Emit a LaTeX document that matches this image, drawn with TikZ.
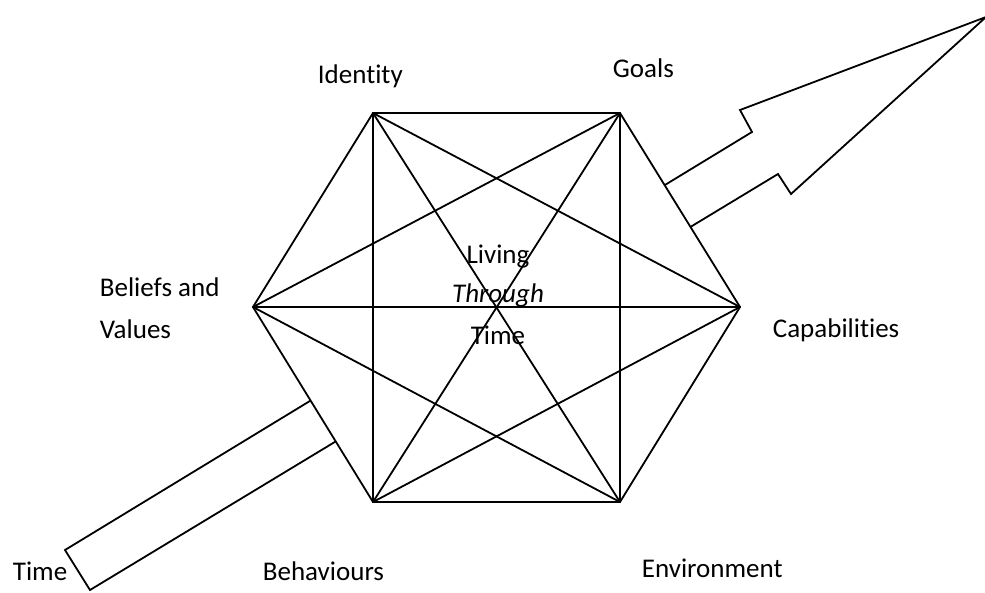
\documentclass[tikz,border=0pt]{standalone}
\usepackage{fontspec}
\setmainfont{Carlito}[Ligatures=NoCommon]
\usetikzlibrary{positioning}

\begin{document}
\begin{tikzpicture}[x=1pt, y=-1pt, line width=1.8pt,
	lbl/.style={font=\fontsize{27}{32}\selectfont, inner sep=0pt, anchor=base west}]
	\useasboundingbox (0,0) rectangle (985,592);
	% time arrow, behind the hexagon
	\draw[line join=miter] (65,550) -- (752,132) -- (740,110) -- (986,17)
		-- (791,194) -- (778,174) -- (90,590) -- cycle;
	% hexagon corners
	\coordinate (vid) at (373,113); \coordinate (vgo) at (620,113);
	\coordinate (vca) at (740,307); \coordinate (ven) at (620,502);
	\coordinate (vbe) at (373,502); \coordinate (vbv) at (253,307);
	\fill[white] (vid) -- (vgo) -- (vca) -- (ven) -- (vbe) -- (vbv) -- cycle;
	\foreach \a/\b in {vid/vgo, vgo/vca, vca/ven, ven/vbe, vbe/vbv, vbv/vid,
		vid/vca, vid/ven, vid/vbe, vgo/ven, vgo/vbe, vgo/vbv,
		vca/vbe, vca/vbv, ven/vbv}
		\draw[line cap=round] (\a) -- (\b);
	% labels
	\node[lbl] (identity) at (317,83) {Identity};
	\node[lbl] (goals) at (612,77) {Goals};
	\node[lbl] (capab) at (772,337) {Capabilities};
	\node[lbl] (environ) at (641,577) {Environment};
	\node[lbl] (behav) at (262,580) {Behaviours};
	\node[lbl] (time) at (12,580) {Time};
	\node[lbl] (beliefs) at (99,296) {Beliefs and};
	\node[lbl] (values) at (99,338) {Values};
	\node[lbl, anchor=base] (living) at (498,263) {Living};
	\node[lbl, anchor=base] (through) at (498,302) {\itshape Through};
	\node[lbl, anchor=base] (ctime) at (498,344) {Time};
\end{tikzpicture}
\end{document}
